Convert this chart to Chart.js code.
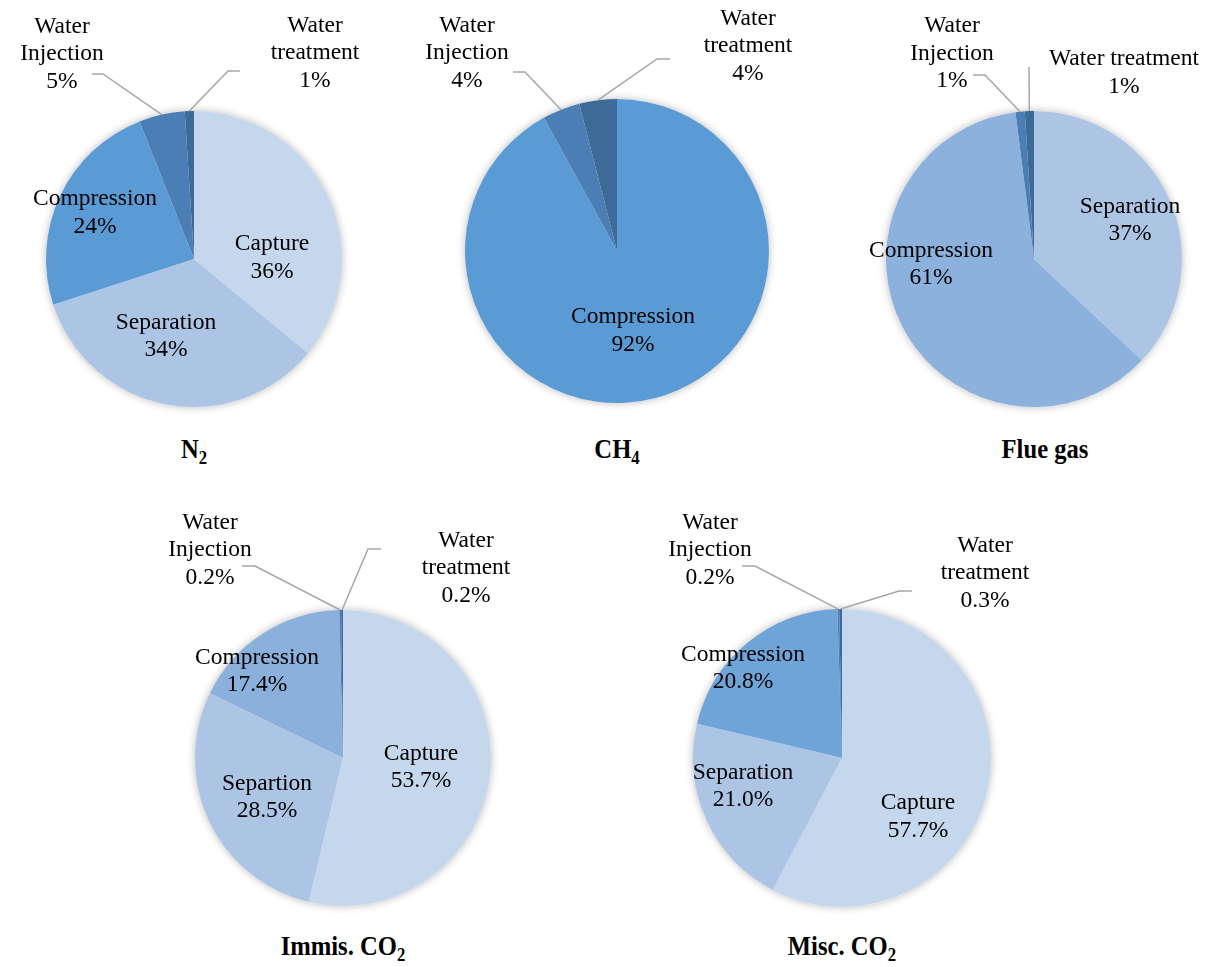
<!DOCTYPE html>
<html>
<head>
<meta charset="utf-8">
<script src="https://cdn.jsdelivr.net/npm/chart.js@4.4.1/dist/chart.umd.min.js"></script>
<style>
  html, body { margin: 0; padding: 0; background: #fff; }
  body { width: 1213px; height: 967px; position: relative; overflow: hidden; }
  canvas { position: absolute; }
  .ttl {
    position: absolute;
    font-family: "Liberation Serif", "Times New Roman", serif;
    font-weight: bold;
    font-size: 28px;
    color: #000;
    white-space: nowrap;
    transform: translateX(-50%) scaleX(0.88);
    line-height: 1;
  }
  .ttl sub { font-size: 19px; vertical-align: -6px; line-height: 0; }
</style>
</head>
<body>
<canvas id="cN2"></canvas>
<canvas id="cCH4"></canvas>
<canvas id="cFlue"></canvas>
<canvas id="cImmis"></canvas>
<canvas id="cMisc"></canvas>

<div class="ttl" style="left:194px; top:435px;">N<sub>2</sub></div>
<div class="ttl" style="left:617px; top:435px;">CH<sub>4</sub></div>
<div class="ttl" style="left:1045px; top:435px;">Flue gas</div>
<div class="ttl" style="left:343px; top:932px;">Immis. CO<sub>2</sub></div>
<div class="ttl" style="left:842px; top:932px;">Misc. CO<sub>2</sub></div>

<script>
// energy share per process step, in percent
const n2Labels = ['Capture', 'Separation', 'Compression', 'Water Injection', 'Water treatment'];
const n2Values = [36, 34, 24, 5, 1];

const ch4Labels = ['Compression', 'Water Injection', 'Water treatment'];
const ch4Values = [92, 4, 4];

const flueLabels = ['Separation', 'Compression', 'Water Injection', 'Water treatment'];
const flueValues = [37, 61, 1, 1];

const immisLabels = ['Capture', 'Separtion', 'Compression', 'Water Injection', 'Water treatment'];
const immisValues = [53.7, 28.5, 17.4, 0.2, 0.2];

const miscLabels = ['Capture', 'Separation', 'Compression', 'Water Injection', 'Water treatment'];
const miscValues = [57.7, 21.0, 20.8, 0.2, 0.3];

// colours
const CAPTURE = '#c5d7ec';
const SEPARATION = '#adc5e5';
const INJECTION = '#4a7eb4';
const TREATMENT = '#3e6a97';

const FONT = '23.5px "Liberation Serif", "Times New Roman", serif';
const LINE_H = 27.5;

// soft shadow under the whole pie
const pieShadow = {
  id: 'pieShadow',
  beforeDatasetsDraw(chart) {
    const arc = chart.getDatasetMeta(0).data[0];
    if (!arc) return;
    const ctx = chart.ctx;
    ctx.save();
    ctx.shadowColor = 'rgba(0,0,0,0.28)';
    ctx.shadowBlur = 9;
    ctx.fillStyle = '#fff';
    ctx.beginPath();
    ctx.arc(arc.x, arc.y, arc.outerRadius, 0, Math.PI * 2);
    ctx.fill();
    ctx.restore();
  }
};

// slice labels, with leader lines for the thin slices
const sliceLabels = {
  id: 'sliceLabels',
  afterDatasetsDraw(chart, args, opts) {
    const ctx = chart.ctx;
    const meta = chart.getDatasetMeta(0);
    const values = chart.data.datasets[0].data;
    const names = chart.data.labels;
    ctx.save();
    ctx.font = FONT;
    ctx.fillStyle = '#000';
    ctx.textAlign = 'center';
    ctx.textBaseline = 'middle';
    meta.data.forEach((arc, i) => {
      const spot = opts.spots[i];
      if (!spot) return;
      const sx = spot.x - opts.box.x;
      const sy = spot.y - opts.box.y + 2;
      if (spot.lead) {
        const mid = (arc.startAngle + arc.endAngle) / 2;
        const px = arc.x + Math.cos(mid) * arc.outerRadius;
        const py = arc.y + Math.sin(mid) * arc.outerRadius;
        const [x0, y0, x1] = spot.lead;
        ctx.strokeStyle = '#a6a6a6';
        ctx.lineWidth = 1.5;
        ctx.beginPath();
        ctx.moveTo(x0 - opts.box.x, y0 - opts.box.y);
        ctx.lineTo(x1 - opts.box.x, y0 - opts.box.y);
        ctx.lineTo(px, py);
        ctx.stroke();
      }
      const lines = spot.oneLine ? [names[i]] : names[i].split(' ');
      lines.push(values[i].toFixed(opts.decimals) + '%');
      const top = sy - (lines.length - 1) * LINE_H / 2;
      lines.forEach((t, k) => ctx.fillText(t, sx, top + k * LINE_H));
    });
    ctx.restore();
  }
};

function makePie(id, box, center, labels, values, colors, spots, decimals) {
  const cv = document.getElementById(id);
  cv.width = box.w;
  cv.height = box.h;
  cv.style.left = box.x + 'px';
  cv.style.top = box.y + 'px';
  const [cx, cy, r] = center;
  return new Chart(cv, {
    type: 'pie',
    data: {
      labels: labels,
      datasets: [{
        data: values,
        backgroundColor: colors,
        borderWidth: 0
      }]
    },
    options: {
      responsive: false,
      animation: false,
      events: [],
      layout: {
        padding: {
          left: cx - r - box.x,
          top: cy - r - box.y,
          right: box.x + box.w - (cx + r),
          bottom: box.y + box.h - (cy + r)
        }
      },
      plugins: {
        legend: { display: false },
        tooltip: { enabled: false },
        sliceLabels: { box: box, spots: spots, decimals: decimals }
      }
    },
    plugins: [pieShadow, sliceLabels]
  });
}

makePie('cN2', { x: 0, y: 0, w: 404, h: 430 }, [194, 259, 148],
  n2Labels, n2Values,
  [CAPTURE, SEPARATION, '#5b9bd5', INJECTION, TREATMENT],
  [
    { x: 272, y: 256 },
    { x: 166, y: 334.5 },
    { x: 95, y: 211 },
    { x: 62, y: 52, lead: [92, 74, 103] },
    { x: 315, y: 51, lead: [240, 71, 228] }
  ], 0);

makePie('cCH4', { x: 404, y: 0, w: 416, h: 430 }, [617, 251, 152],
  ch4Labels, ch4Values,
  ['#5b9bd5', INJECTION, TREATMENT],
  [
    { x: 633, y: 329 },
    { x: 467, y: 51, lead: [513, 72, 525] },
    { x: 748, y: 44, lead: [670, 59, 657] }
  ], 0);

makePie('cFlue', { x: 820, y: 0, w: 393, h: 430 }, [1034, 259, 148],
  flueLabels, flueValues,
  [SEPARATION, '#8cb1dc', INJECTION, TREATMENT],
  [
    { x: 1130, y: 218.5 },
    { x: 931, y: 262.5 },
    { x: 952, y: 51.5, lead: [973, 75, 985] },
    { x: 1124, y: 71, oneLine: true, lead: [1029, 67, 1029] }
  ], 0);

makePie('cImmis', { x: 100, y: 480, w: 480, h: 440 }, [343, 758, 148],
  immisLabels, immisValues,
  [CAPTURE, SEPARATION, '#8cb0dc', INJECTION, TREATMENT],
  [
    { x: 421, y: 765.5 },
    { x: 267, y: 795.5 },
    { x: 257, y: 669.5 },
    { x: 210, y: 548, lead: [242, 566, 255] },
    { x: 466, y: 566, lead: [381, 549, 368] }
  ], 1);

makePie('cMisc', { x: 580, y: 480, w: 520, h: 440 }, [842, 758, 149],
  miscLabels, miscValues,
  [CAPTURE, SEPARATION, '#6fa4d8', INJECTION, TREATMENT],
  [
    { x: 918, y: 815 },
    { x: 743, y: 784.5 },
    { x: 743, y: 666.5 },
    { x: 710, y: 548, lead: [742, 566, 755] },
    { x: 985, y: 571, lead: [912, 591, 899] }
  ], 1);
</script>
</body>
</html>
